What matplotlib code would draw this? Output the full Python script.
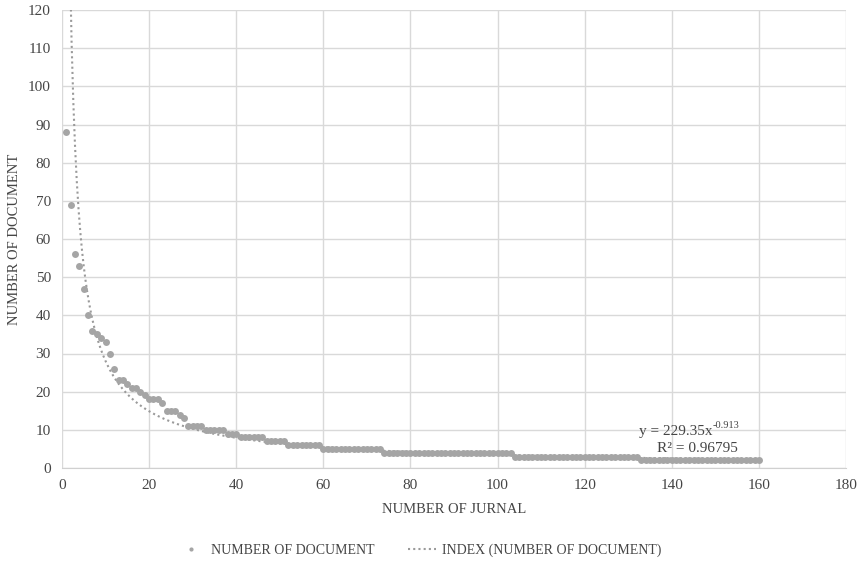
import numpy as np
import matplotlib
matplotlib.use('Agg')
import matplotlib.pyplot as plt

# documents per journal, ranked
head_docs = [88, 69, 56, 53, 47, 40, 36, 35, 34, 33, 30, 26, 23, 23, 22, 21, 21,
             20, 19, 18, 18, 18, 17, 15, 15, 15, 14, 13]
# (value, how many journals) for the long flat tail
tail_levels = [11, 10, 9, 8, 7, 6, 5, 4, 3, 2]
tail_counts = [4, 5, 3, 6, 5, 8, 14, 30, 29, 28]

# power trend line shown on the chart
trend_a = 229.35
trend_b = -0.913
r_squared = 0.96795

docs = head_docs + [v for v, n in zip(tail_levels, tail_counts) for _ in range(n)]
journals = np.arange(1, len(docs) + 1)

plt.rcParams['font.family'] = ['Liberation Serif', 'DejaVu Serif']
text_col = '#454545'

fig = plt.figure(figsize=(8.61, 5.63), dpi=100)
ax = fig.add_axes([62 / 861, 1 - 468 / 563, 784 / 861, 458 / 563])

ax.plot(journals, docs, 'o', color='#a5a5a5', ms=5, mec='none',
        label='NUMBER OF DOCUMENT', zorder=3)
xt = np.linspace(1, journals[-1], 400)
ax.plot(xt, trend_a * xt ** trend_b, linestyle=(0, (1, 1.5)), color='#9a9a9a',
        lw=1.5, label='INDEX (NUMBER OF DOCUMENT)', zorder=2)

ax.set_xlim(0, 180)
ax.set_ylim(0, 120)
ax.set_xticks(range(0, 181, 20))
ax.set_yticks(range(0, 121, 10))
ax.grid(True, color='#d9d9d9', lw=1)
ax.set_axisbelow(True)
ax.tick_params(length=0, labelsize=11, colors=text_col, pad=8)
for s in ['top', 'right', 'left']:
    ax.spines[s].set_visible(False)
ax.spines['bottom'].set_color('#d0d0d0')

ax.set_xlabel('NUMBER OF JURNAL', fontsize=10.5, color=text_col, labelpad=8)
ax.set_ylabel('NUMBER OF DOCUMENT', fontsize=10.5, color=text_col, labelpad=5)

# trend line equation, superscript drawn as a second smaller text
ax.text(149.3, 8.7, 'y = 229.35x', ha='right', fontsize=11, color=text_col)
ax.annotate('%.3f' % trend_b, (149.3, 8.7), xytext=(0.5, 5),
            textcoords='offset points', ha='left', fontsize=7.5, color=text_col)
ax.text(146, 4.2, 'R² = %.5f' % r_squared, ha='center', fontsize=11,
        color=text_col)

fig.legend(loc='lower center', bbox_to_anchor=(0.487, -0.012), ncol=2, frameon=False,
           fontsize=10, labelcolor=text_col, markerscale=0.6, handlelength=2,
           handletextpad=0.45, columnspacing=2.4)

fig.savefig('out.png')
